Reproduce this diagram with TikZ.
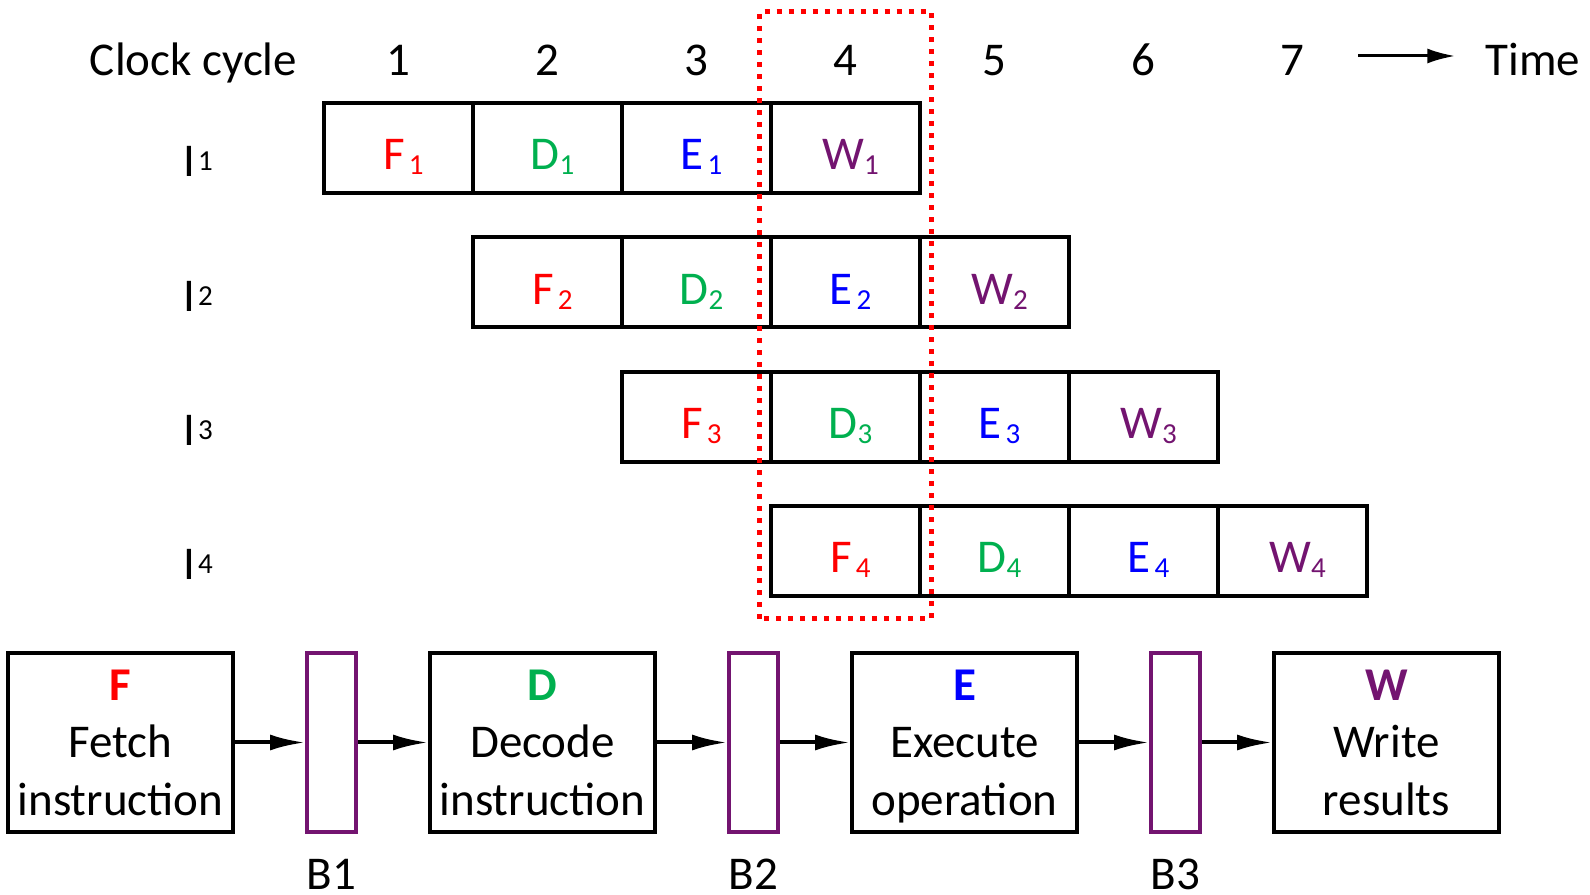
\documentclass[tikz,border=0pt]{standalone}
\usepackage{fontspec}
\setmainfont{Carlito}
\usepackage{tikz}
\usetikzlibrary{arrows.meta}

% stage letter with its small index, e.g. F_1
\newcommand{\cellsub}[4]{\kern5bp\textcolor{#1}{#2\kern#4\lower2.5bp\hbox{\fontsize{14.5bp}{16bp}\selectfont #3}}}
% instruction label I_n
\newcommand{\instr}[1]{I\kern1.5bp\raise3bp\hbox{\fontsize{14.5bp}{16bp}\selectfont #1}}

\begin{document}
\begin{tikzpicture}[>={Latex[length=17.5bp,width=8bp]},
  every node/.style={font=\fontsize{23.5bp}{28bp}\selectfont},
  lab/.style={anchor=base,inner sep=0pt},
  cell/.style={draw,line width=2bp,minimum width=74.5bp,minimum height=45bp,inner sep=0pt,text height=22bp,text depth=0pt},
  unit/.style={draw,line width=2bp,minimum width=112.5bp,minimum height=89.5bp,inner sep=0pt,align=center,font=\fontsize{23.5bp}{28.75bp}\selectfont},
  buf/.style={draw=wcol,line width=2bp,minimum width=24.5bp,minimum height=89.5bp,inner sep=0pt},
  window/.style={draw=red,line width=2.5bp,dash pattern=on 2.5bp off 3.5bp}]
%%
  \definecolor{fetchcol}{rgb}{1.0,0.0,0.0}
  \definecolor{decodecol}{rgb}{0.0,0.69,0.31}
  \definecolor{execcol}{rgb}{0.0,0.0,1.0}
  \definecolor{wcol}{rgb}{0.45,0.08,0.44}
  \fill [white] (0bp,0bp) rectangle (795bp,447.5bp);
%% time axis
  \node (clk) at (96.75bp,409.5bp) [lab] {Clock cycle};
  \node (c1) at (199.25bp,409.5bp) [lab] {1};
  \node (c2) at (273.75bp,409.5bp) [lab] {2};
  \node (c3) at (348.25bp,409.5bp) [lab] {3};
  \node (c4) at (422.75bp,409.5bp) [lab] {4};
  \node (c5) at (497.25bp,409.5bp) [lab] {5};
  \node (c6) at (571.75bp,409.5bp) [lab] {6};
  \node (c7) at (646.25bp,409.5bp) [lab] {7};
  \node (time) at (766.5bp,409.5bp) [lab] {Time};
  \coordinate (t0) at (679bp,419.5bp);
  \draw [-{Latex[length=14bp,width=7.5bp]},line width=1.5bp,shorten >=15bp] (t0) -- (time.west |- t0);
%% instructions
  \node (i1) at (99bp,359bp) [lab] {\instr{1}};
  \node (i2) at (99bp,291.9bp) [lab] {\instr{2}};
  \node (i3) at (99bp,224.7bp) [lab] {\instr{3}};
  \node (i4) at (99bp,157.5bp) [lab] {\instr{4}};
%
  \node (F1) at (199.25bp,373.5bp) [cell] {\cellsub{fetchcol}{F}{1}{2bp}};
  \node (D1) at (273.75bp,373.5bp) [cell] {\cellsub{decodecol}{D}{1}{0bp}};
  \node (E1) at (348.25bp,373.5bp) [cell] {\cellsub{execcol}{E}{1}{2bp}};
  \node (W1) at (422.75bp,373.5bp) [cell] {\cellsub{wcol}{W}{1}{0bp}};
%
  \node (F2) at (273.75bp,306.4bp) [cell] {\cellsub{fetchcol}{F}{2}{2bp}};
  \node (D2) at (348.25bp,306.4bp) [cell] {\cellsub{decodecol}{D}{2}{0bp}};
  \node (E2) at (422.75bp,306.4bp) [cell] {\cellsub{execcol}{E}{2}{2bp}};
  \node (W2) at (497.25bp,306.4bp) [cell] {\cellsub{wcol}{W}{2}{0bp}};
%
  \node (F3) at (348.25bp,239.2bp) [cell] {\cellsub{fetchcol}{F}{3}{2bp}};
  \node (D3) at (422.75bp,239.2bp) [cell] {\cellsub{decodecol}{D}{3}{0bp}};
  \node (E3) at (497.25bp,239.2bp) [cell] {\cellsub{execcol}{E}{3}{2bp}};
  \node (W3) at (571.75bp,239.2bp) [cell] {\cellsub{wcol}{W}{3}{0bp}};
%
  \node (F4) at (422.75bp,172bp) [cell] {\cellsub{fetchcol}{F}{4}{2bp}};
  \node (D4) at (497.25bp,172bp) [cell] {\cellsub{decodecol}{D}{4}{0bp}};
  \node (E4) at (571.75bp,172bp) [cell] {\cellsub{execcol}{E}{4}{2bp}};
  \node (W4) at (646.25bp,172bp) [cell] {\cellsub{wcol}{W}{4}{0bp}};
%% pipeline stages and buffers
  \node (fetch) at (60.25bp,76.25bp) [unit] {\textbf{\color{fetchcol}F}\\Fetch\\instruction};
  \node (B1) at (165.75bp,76.25bp) [buf] {};
  \node (decode) at (271.25bp,76.25bp) [unit] {\textbf{\color{decodecol}D}\\Decode\\instruction};
  \node (B2) at (376.75bp,76.25bp) [buf] {};
  \node (execute) at (482.25bp,76.25bp) [unit] {\textbf{\color{execcol}E}\\Execute\\\smash{operation}};
  \node (B3) at (587.75bp,76.25bp) [buf] {};
  \node (write) at (693.25bp,76.25bp) [unit] {\textbf{\color{wcol}W}\\Write\\results};
  \node (b1) at (165.75bp,3bp) [lab] {B1};
  \node (b2) at (376.75bp,3bp) [lab] {B2};
  \node (b3) at (587.75bp,3bp) [lab] {B3};
  \draw [->,line width=2bp] (fetch) -- (B1);
  \draw [->,line width=2bp] (B1) -- (decode);
  \draw [->,line width=2bp] (decode) -- (B2);
  \draw [->,line width=2bp] (B2) -- (execute);
  \draw [->,line width=2bp] (execute) -- (B3);
  \draw [->,line width=2bp] (B3) -- (write);
%% cycle 4 window
  \draw [window] (379.75bp,138bp) rectangle (465.5bp,441.5bp);
%
\end{tikzpicture}
\end{document}
